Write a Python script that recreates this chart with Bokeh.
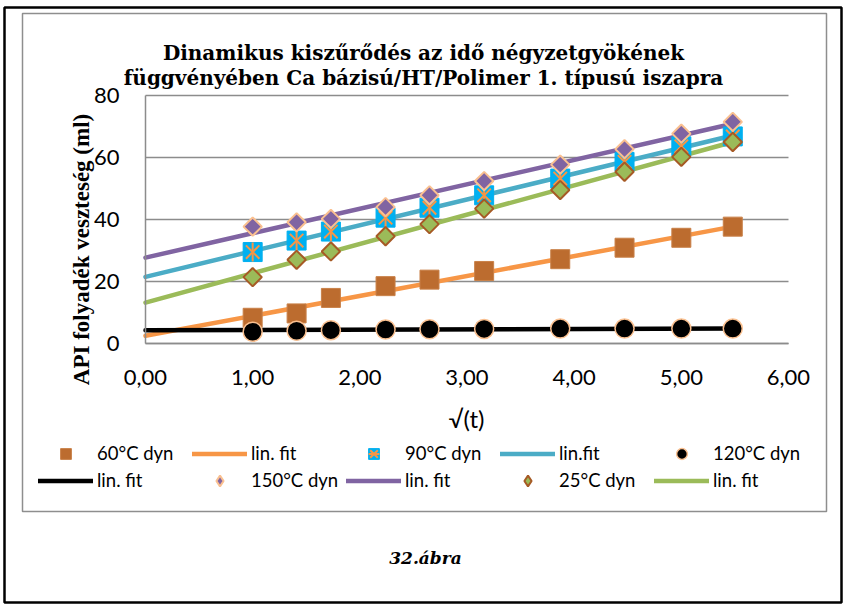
import numpy as np
from bokeh.plotting import figure
from bokeh.models import Range1d, FixedTicker, Label, BoxAnnotation, Legend, LegendItem
from bokeh.embed import file_html
from bokeh.resources import INLINE

# ---- data ----
sqrt_t = [1.00, 1.41, 1.73, 2.24, 2.65, 3.16, 3.87, 4.47, 5.00, 5.48]
loss_60 = [8.3, 9.7, 14.7, 18.5, 20.6, 23.4, 27.2, 30.9, 34.1, 37.7]
loss_90 = [29.5, 33.2, 36.1, 40.6, 43.8, 47.8, 53.2, 58.6, 63.6, 66.8]
loss_120 = [3.8, 4.1, 4.3, 4.5, 4.6, 4.7, 4.8, 4.8, 4.8, 4.8]
loss_150 = [37.7, 39.1, 40.2, 44.0, 47.8, 52.4, 57.7, 62.7, 67.7, 71.5]
loss_25 = [21.4, 27.0, 29.7, 34.6, 38.5, 43.5, 49.5, 55.4, 60.2, 65.0]

fit_x = [0.0, 5.48]
fit_60 = [2.5, 37.7]
fit_90 = [21.5, 67.1]
fit_120 = [4.3, 4.8]
fit_150 = [27.7, 70.9]
fit_25 = [13.2, 65.0]

x_ticks = [0, 1, 2, 3, 4, 5, 6]
x_tick_labels = ["0,00", "1,00", "2,00", "3,00", "4,00", "5,00", "6,00"]
y_ticks = [0, 20, 40, 60, 80]

title_1 = "Dinamikus kiszűrődés az idő négyzetgyökének"
title_2 = "függvényében Ca bázisú/HT/Polimer 1. típusú iszapra"
y_title = "API folyadék veszteség (ml)"
x_title = "√(t)"
caption = "32.ábra"

# ---- geometry: plot area of the data box inside a full-canvas frame ----
W, H = 846, 605
AX_L, AX_R, AX_T, AX_B = 145, 788, 95, 343          # pixel box of x 0..6, y 0..80
PXX = (AX_R - AX_L) / (x_ticks[-1] - x_ticks[0])
PXY = (AX_B - AX_T) / (y_ticks[-1] - y_ticks[0])

def dx(px):
    return (px - AX_L) / PXX

def dy(py):
    return (AX_B - py) / PXY

p = figure(width=W, height=H, title=None,
           x_range=Range1d(dx(0), dx(W)), y_range=Range1d(dy(H), dy(0)),
           output_backend="svg", toolbar_location=None,
           min_border_left=0, min_border_right=0, min_border_top=0, min_border_bottom=0)
p.outline_line_color = None
p.background_fill_color = "white"
p.border_fill_color = "white"

GRID = "#8C8C8C"
p.xgrid.visible = False

p.xaxis.ticker = FixedTicker(ticks=x_ticks)
p.xaxis.major_label_overrides = {t: lab for t, lab in zip(x_ticks, x_tick_labels)}
p.yaxis.ticker = FixedTicker(ticks=y_ticks)
p.xaxis.fixed_location = 0
p.yaxis.fixed_location = 0
p.xaxis.bounds = (x_ticks[0], x_ticks[-1])
p.yaxis.bounds = (y_ticks[0], y_ticks[-1])
for ax in (p.xaxis[0], p.yaxis[0]):
    ax.major_tick_line_color = None
    ax.minor_tick_line_color = None
    ax.major_tick_out = 0
    ax.major_tick_in = 0
    ax.minor_tick_out = 0
    ax.minor_tick_in = 0
    ax.axis_line_color = GRID
    ax.axis_line_width = 1.5
    ax.major_label_text_font = "Lato"
    ax.major_label_text_font_size = "22px"
    ax.major_label_text_color = "black"
p.xaxis.major_label_standoff = 26
p.yaxis.major_label_standoff = 26

# horizontal gridlines limited to the x extent of the data box
try:
    p.ygrid[0].cross_bounds = (x_ticks[0], x_ticks[-1])
    p.ygrid.grid_line_color = GRID
    p.ygrid.grid_line_width = 1.5
except AttributeError:
    p.ygrid.visible = False
    p.segment(x0=[x_ticks[0]] * len(y_ticks), y0=y_ticks,
              x1=[x_ticks[-1]] * len(y_ticks), y1=y_ticks,
              line_color=GRID, line_width=1.5, level="underlay")

# colours
C60, C90, C120, C150, C25 = "#BC6C2F", "#00B0F0", "black", "#8064A2", "#9BBB59"
ORANGE, PEACH, BROWN = "#F79646", "#FAC090", "#A65A25"

# trend lines
LW = 4.5
r_f60 = p.line(fit_x, fit_60, line_color=ORANGE, line_width=LW, line_cap="round")
r_f90 = p.line(fit_x, fit_90, line_color="#4BACC6", line_width=LW, line_cap="round")
r_f120 = p.line(fit_x, fit_120, line_color="black", line_width=LW, line_cap="round")
r_f150 = p.line(fit_x, fit_150, line_color=C150, line_width=LW, line_cap="round")
r_f25 = p.line(fit_x, fit_25, line_color=C25, line_width=LW, line_cap="round")

# markers
r_60 = p.scatter(sqrt_t, loss_60, marker="square", size=19, fill_color=C60,
                 line_color="#C98048", line_width=1)
r_90a = p.scatter(sqrt_t, loss_90, marker="square", size=19, fill_color=C90,
                  line_color=C90, line_width=1)
r_90b = p.scatter(sqrt_t, loss_90, marker="x", size=19, line_color=ORANGE, line_width=2)
r_90c = p.scatter(sqrt_t, loss_90, marker="dash", angle=np.pi / 2, size=19,
                  line_color=ORANGE, line_width=2)
r_120 = p.scatter(sqrt_t, loss_120, marker="circle", size=19, fill_color=C120,
                  line_color=PEACH, line_width=1.5)
r_150 = p.scatter(sqrt_t, loss_150, marker="square", angle=np.pi / 4, size=13,
                  fill_color=C150, line_color=PEACH, line_width=2)
r_25 = p.scatter(sqrt_t, loss_25, marker="square", angle=np.pi / 4, size=13,
                 fill_color=C25, line_color=BROWN, line_width=2)

# legend swatches for the diamond series (legend glyphs are drawn unrotated);
# hidden in the plot itself, only used by the legend
k_150 = p.scatter(sqrt_t, loss_150, marker="diamond", size=13, fill_color=C150,
                  line_color=PEACH, line_width=2, visible=False)
k_25 = p.scatter(sqrt_t, loss_25, marker="diamond", size=13, fill_color=C25,
                 line_color=BROWN, line_width=2, visible=False)

items = [
    LegendItem(label="60°C dyn", renderers=[r_60]),
    LegendItem(label="lin. fit", renderers=[r_f60]),
    LegendItem(label="90°C dyn", renderers=[r_90a, r_90b, r_90c]),
    LegendItem(label="lin.fit", renderers=[r_f90]),
    LegendItem(label="120°C dyn", renderers=[r_120]),
    LegendItem(label="lin. fit", renderers=[r_f120]),
    LegendItem(label="150°C dyn", renderers=[k_150]),
    LegendItem(label="lin. fit", renderers=[r_f150]),
    LegendItem(label="25°C dyn", renderers=[k_25]),
    LegendItem(label="lin. fit", renderers=[r_f25]),
]
# location = bottom-left corner, pixels from the frame's left / bottom edge
legend = Legend(items=items, location=(38, H - 493.5), orientation="horizontal", ncols=5,
                glyph_width=55, glyph_height=27, label_height=27, label_width=95,
                label_standoff=4, spacing=0, padding=0, margin=0,
                border_line_color=None, background_fill_alpha=0,
                inactive_fill_alpha=0, click_policy="none",
                label_text_font="Lato", label_text_font_size="18.5px",
                label_text_color="black")
p.add_layout(legend)

# chart-area frame and outer frame
def box(l, r, t, b, color, w):
    p.add_layout(BoxAnnotation(left=dx(l), right=dx(r), top=dy(t), bottom=dy(b),
                               fill_alpha=0, line_color=color, line_alpha=1, line_width=w))

box(22, 826, 13, 511, "#8E8E8E", 1.5)
box(4, 841, 7, 602, "black", 2.5)

def label(text, px, py, font, size, style="normal", align="center", baseline="alphabetic", angle=0.0):
    p.add_layout(Label(x=dx(px), y=dy(py), text=text,
                       text_font=font, text_font_size=f"{size}px", text_font_style=style,
                       text_align=align, text_baseline=baseline, angle=angle,
                       text_color="black"))

label(title_1, 423, 52.5, "DejaVu Serif", 20, "bold")
label(title_2, 423, 77.5, "DejaVu Serif", 20, "bold")
label(y_title, 81, 249, "Liberation Serif", 23, "bold", angle=np.pi / 2)
label(x_title, 466, 418, "Lato", 24, baseline="middle")
label(caption, 425, 557, "DejaVu Serif", 17, "bold italic", baseline="middle")

open("out.html", "w").write(file_html(p, INLINE))
